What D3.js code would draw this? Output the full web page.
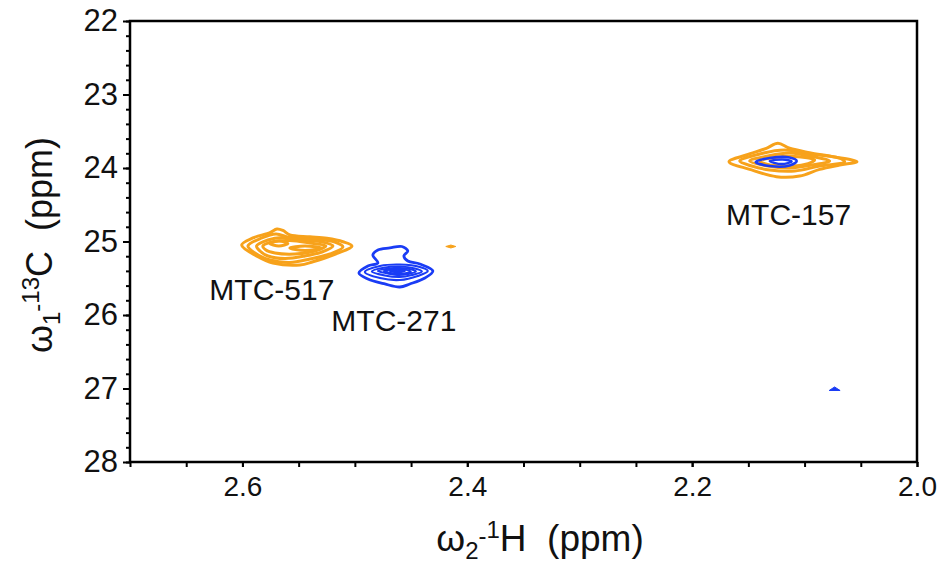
<!DOCTYPE html>
<html><head><meta charset="utf-8">
<script src="https://cdn.jsdelivr.net/npm/d3@7"></script>
<style>body{margin:0;background:#fff}svg{display:block;font-family:"Liberation Sans",Arial,sans-serif}</style>
</head><body><svg id="c" width="937" height="564"></svg>
<script>
// ---- data (ppm) ----
const xDomain = [2.7, 2.0];
const yDomain = [22, 28];
const xTickLabels = [2.6, 2.4, 2.2, 2.0];
const xMinorTicks = d3.range(0, 15).map(i => +(2.7 - i * 0.05).toFixed(2));
const yTickLabels = [22, 23, 24, 25, 26, 27, 28];
const yMinorTicks = d3.range(0, 31).map(i => +(22 + i * 0.2).toFixed(1));

// contour rings: [1H ppm, 13C ppm]
const orange517 = [
  [[2.6007,25.048],[2.5907,24.952],[2.5755,24.880],[2.5693,24.830],[2.564,24.850],[2.5578,24.911],[2.540,24.935],[2.5249,24.956],[2.5106,25.003],[2.5026,25.061],[2.5195,25.184],[2.5373,25.275],[2.5489,25.320],[2.5729,25.292],[2.5862,25.207]],
  [[2.5951,25.061],[2.5827,24.952],[2.5702,24.898],[2.5578,24.946],[2.5355,24.966],[2.5178,25.007],[2.5106,25.075],[2.5222,25.170],[2.540,25.238],[2.5578,25.286],[2.5755,25.252],[2.5889,25.157]],
  [[2.5874,25.061],[2.5773,24.980],[2.5649,24.946],[2.5489,24.980],[2.5311,25.000],[2.5195,25.061],[2.5293,25.143],[2.5444,25.197],[2.5622,25.231],[2.5773,25.197],[2.5844,25.129]],
  [[2.5818,25.061],[2.572,25.000],[2.5578,24.986],[2.540,25.020],[2.5258,25.061],[2.5355,25.129],[2.5533,25.170],[2.5711,25.156],[2.5791,25.116]],
  [[2.5755,25.027],[2.5676,24.993],[2.5596,25.027],[2.5676,25.061]],
  [[2.5578,25.088],[2.5444,25.061],[2.5293,25.088],[2.5444,25.122]]
];
const orange157 = [
  [[2.1672,23.914],[2.1518,23.823],[2.134,23.732],[2.1237,23.664],[2.1133,23.732],[2.0955,23.792],[2.075,23.846],[2.0534,23.914],[2.0688,23.959],[2.0866,24.018],[2.1044,24.109],[2.1251,24.118],[2.1488,24.018]],
  [[2.1577,23.905],[2.1399,23.809],[2.1177,23.755],[2.0955,23.809],[2.0688,23.864],[2.0644,23.918],[2.0866,23.973],[2.1088,24.041],[2.131,24.027],[2.147,23.973]],
  [[2.1488,23.905],[2.1328,23.837],[2.1133,23.796],[2.091,23.850],[2.0777,23.905],[2.0937,23.959],[2.1133,24.000],[2.1328,23.973]],
  [[2.1399,23.905],[2.1266,23.857],[2.1088,23.843],[2.091,23.891],[2.0999,23.952],[2.1177,23.973],[2.1328,23.952]]
];
const blue157 = [
  [[2.1435,23.918],[2.131,23.864],[2.1133,23.857],[2.107,23.905],[2.1133,23.966],[2.131,23.973]],
  [[2.131,23.905],[2.1195,23.884],[2.1115,23.912],[2.1204,23.946]]
];
const blue271 = [
  [[2.4964,25.428],[2.4884,25.333],[2.4795,25.292],[2.484,25.184],[2.4795,25.116],[2.4689,25.088],[2.4582,25.068],[2.4529,25.129],[2.4564,25.197],[2.4529,25.265],[2.4422,25.306],[2.4306,25.401],[2.4377,25.497],[2.4511,25.578],[2.46,25.619],[2.4733,25.578],[2.4884,25.51]],
  [[2.4911,25.415],[2.4777,25.333],[2.46,25.313],[2.4422,25.347],[2.4351,25.401],[2.444,25.469],[2.46,25.524],[2.4777,25.497]],
  [[2.4849,25.408],[2.4733,25.354],[2.46,25.340],[2.4466,25.367],[2.4404,25.408],[2.4493,25.456],[2.46,25.483],[2.4733,25.462]],
  [[2.4795,25.401],[2.4689,25.367],[2.46,25.360],[2.4493,25.381],[2.4457,25.408],[2.4529,25.442],[2.4609,25.456],[2.4706,25.435]],
  [[2.4742,25.401],[2.4662,25.381],[2.4591,25.377],[2.452,25.394],[2.4502,25.415],[2.4564,25.435],[2.4635,25.437],[2.4697,25.424]],
  [[2.4689,25.401],[2.4617,25.390],[2.4555,25.401],[2.4617,25.419]]
];
const orangeDot = [[2.4191,25.068],[2.4146,25.048],[2.4102,25.068],[2.4146,25.088]];
const blueDot = [[2.0781,27.027],[2.0733,26.979],[2.0684,27.027]];

const peakLabels = ["MTC-517", "MTC-271", "MTC-157"];
const labelAt = [[2.5738,25.796],[2.4653,26.218],[2.1142,24.775]];

const ORANGE = "#F7A21B", BLUE = "#1A3CF5";

// ---- layout ----
const svg = d3.select("#c");
const L = 130, R = 917, T = 21, B = 462;
const x = d3.scaleLinear().domain(xDomain).range([L, R]);
const y = d3.scaleLinear().domain(yDomain).range([T, B]);

const line = d3.line().x(d => x(d[0])).y(d => y(d[1])).curve(d3.curveCatmullRomClosed.alpha(0.5));
const poly = d3.line().x(d => x(d[0])).y(d => y(d[1])).curve(d3.curveLinearClosed);

function drawRings(rings, color, w, wInner) {
  svg.append("g").selectAll("path").data(rings).join("path")
    .attr("d", line).attr("fill", "none").attr("stroke", color)
    .attr("stroke-width", (d, i) => i === 0 ? w : wInner).attr("stroke-linejoin", "round");
}
drawRings(orange517, ORANGE, 3, 3);
drawRings(blue271, BLUE, 2.8, 2.1);
drawRings(orange157, ORANGE, 3, 3);
drawRings(blue157, BLUE, 2.6, 2.4);
svg.append("path").attr("d", poly(orangeDot)).attr("fill", ORANGE).attr("stroke", ORANGE).attr("stroke-width", 1);
svg.append("path").attr("d", poly(blueDot)).attr("fill", BLUE).attr("stroke", BLUE).attr("stroke-width", 1);

// frame
svg.append("rect").attr("x", L).attr("y", T).attr("width", R - L).attr("height", B - T)
  .attr("fill", "none").attr("stroke", "#000").attr("stroke-width", 2.5);

// axes
const gx = svg.append("g").attr("transform", `translate(0,${B})`)
  .call(d3.axisBottom(x).tickValues(xTickLabels).tickFormat(d3.format(".1f")).tickSize(5).tickPadding(9));
gx.select(".domain").remove();
gx.selectAll("line").attr("stroke-width", 2);
gx.selectAll("text").attr("font-size", "28px").attr("fill", "#111").attr("font-family", "Liberation Sans, Arial");
svg.append("g").attr("transform", `translate(0,${B})`)
  .call(d3.axisBottom(x).tickValues(xMinorTicks).tickFormat("").tickSize(5))
  .call(g => g.select(".domain").remove()).selectAll("line").attr("stroke-width", 2);

const gy = svg.append("g").attr("transform", `translate(${L},0)`)
  .call(d3.axisLeft(y).tickValues(yTickLabels).tickFormat(d3.format("d")).tickSize(7).tickPadding(5));
gy.select(".domain").remove();
gy.selectAll("line").attr("stroke-width", 2);
gy.selectAll("text").attr("font-size", "31px").attr("fill", "#111");
svg.append("g").attr("transform", `translate(${L},0)`)
  .call(d3.axisLeft(y).tickValues(yMinorTicks).tickFormat("").tickSize(4))
  .call(g => g.select(".domain").remove()).selectAll("line").attr("stroke-width", 2);

// peak labels
svg.append("g").selectAll("text").data(peakLabels).join("text")
  .attr("x", (d, i) => x(labelAt[i][0])).attr("y", (d, i) => y(labelAt[i][1]))
  .attr("text-anchor", "middle").attr("font-size", "30px").attr("fill", "#111").text(d => d);

// axis titles
const xt = svg.append("text").attr("x", 540).attr("y", 551).attr("text-anchor", "middle")
  .attr("font-size", "37px").attr("fill", "#111").style("white-space", "pre");
xt.append("tspan").text("ω");
xt.append("tspan").attr("font-size", "24px").attr("dy", 8).text("2");
xt.append("tspan").attr("font-size", "24px").attr("dy", -15).text("-");
xt.append("tspan").attr("font-size", "24px").attr("dy", -6).text("1");
xt.append("tspan").attr("dy", 13).text("H  (ppm)");

const yt = svg.append("text").attr("transform", "translate(52,245) rotate(-90)").attr("text-anchor", "middle")
  .attr("font-size", "36px").attr("fill", "#111").style("white-space", "pre");
yt.append("tspan").text("ω");
yt.append("tspan").attr("font-size", "24px").attr("dy", 8).text("1");
yt.append("tspan").attr("font-size", "24px").attr("dy", -15).text("-");
yt.append("tspan").attr("font-size", "24px").attr("dy", -6).text("13");
yt.append("tspan").attr("dy", 13).text("C  (ppm)");
</script></body></html>
